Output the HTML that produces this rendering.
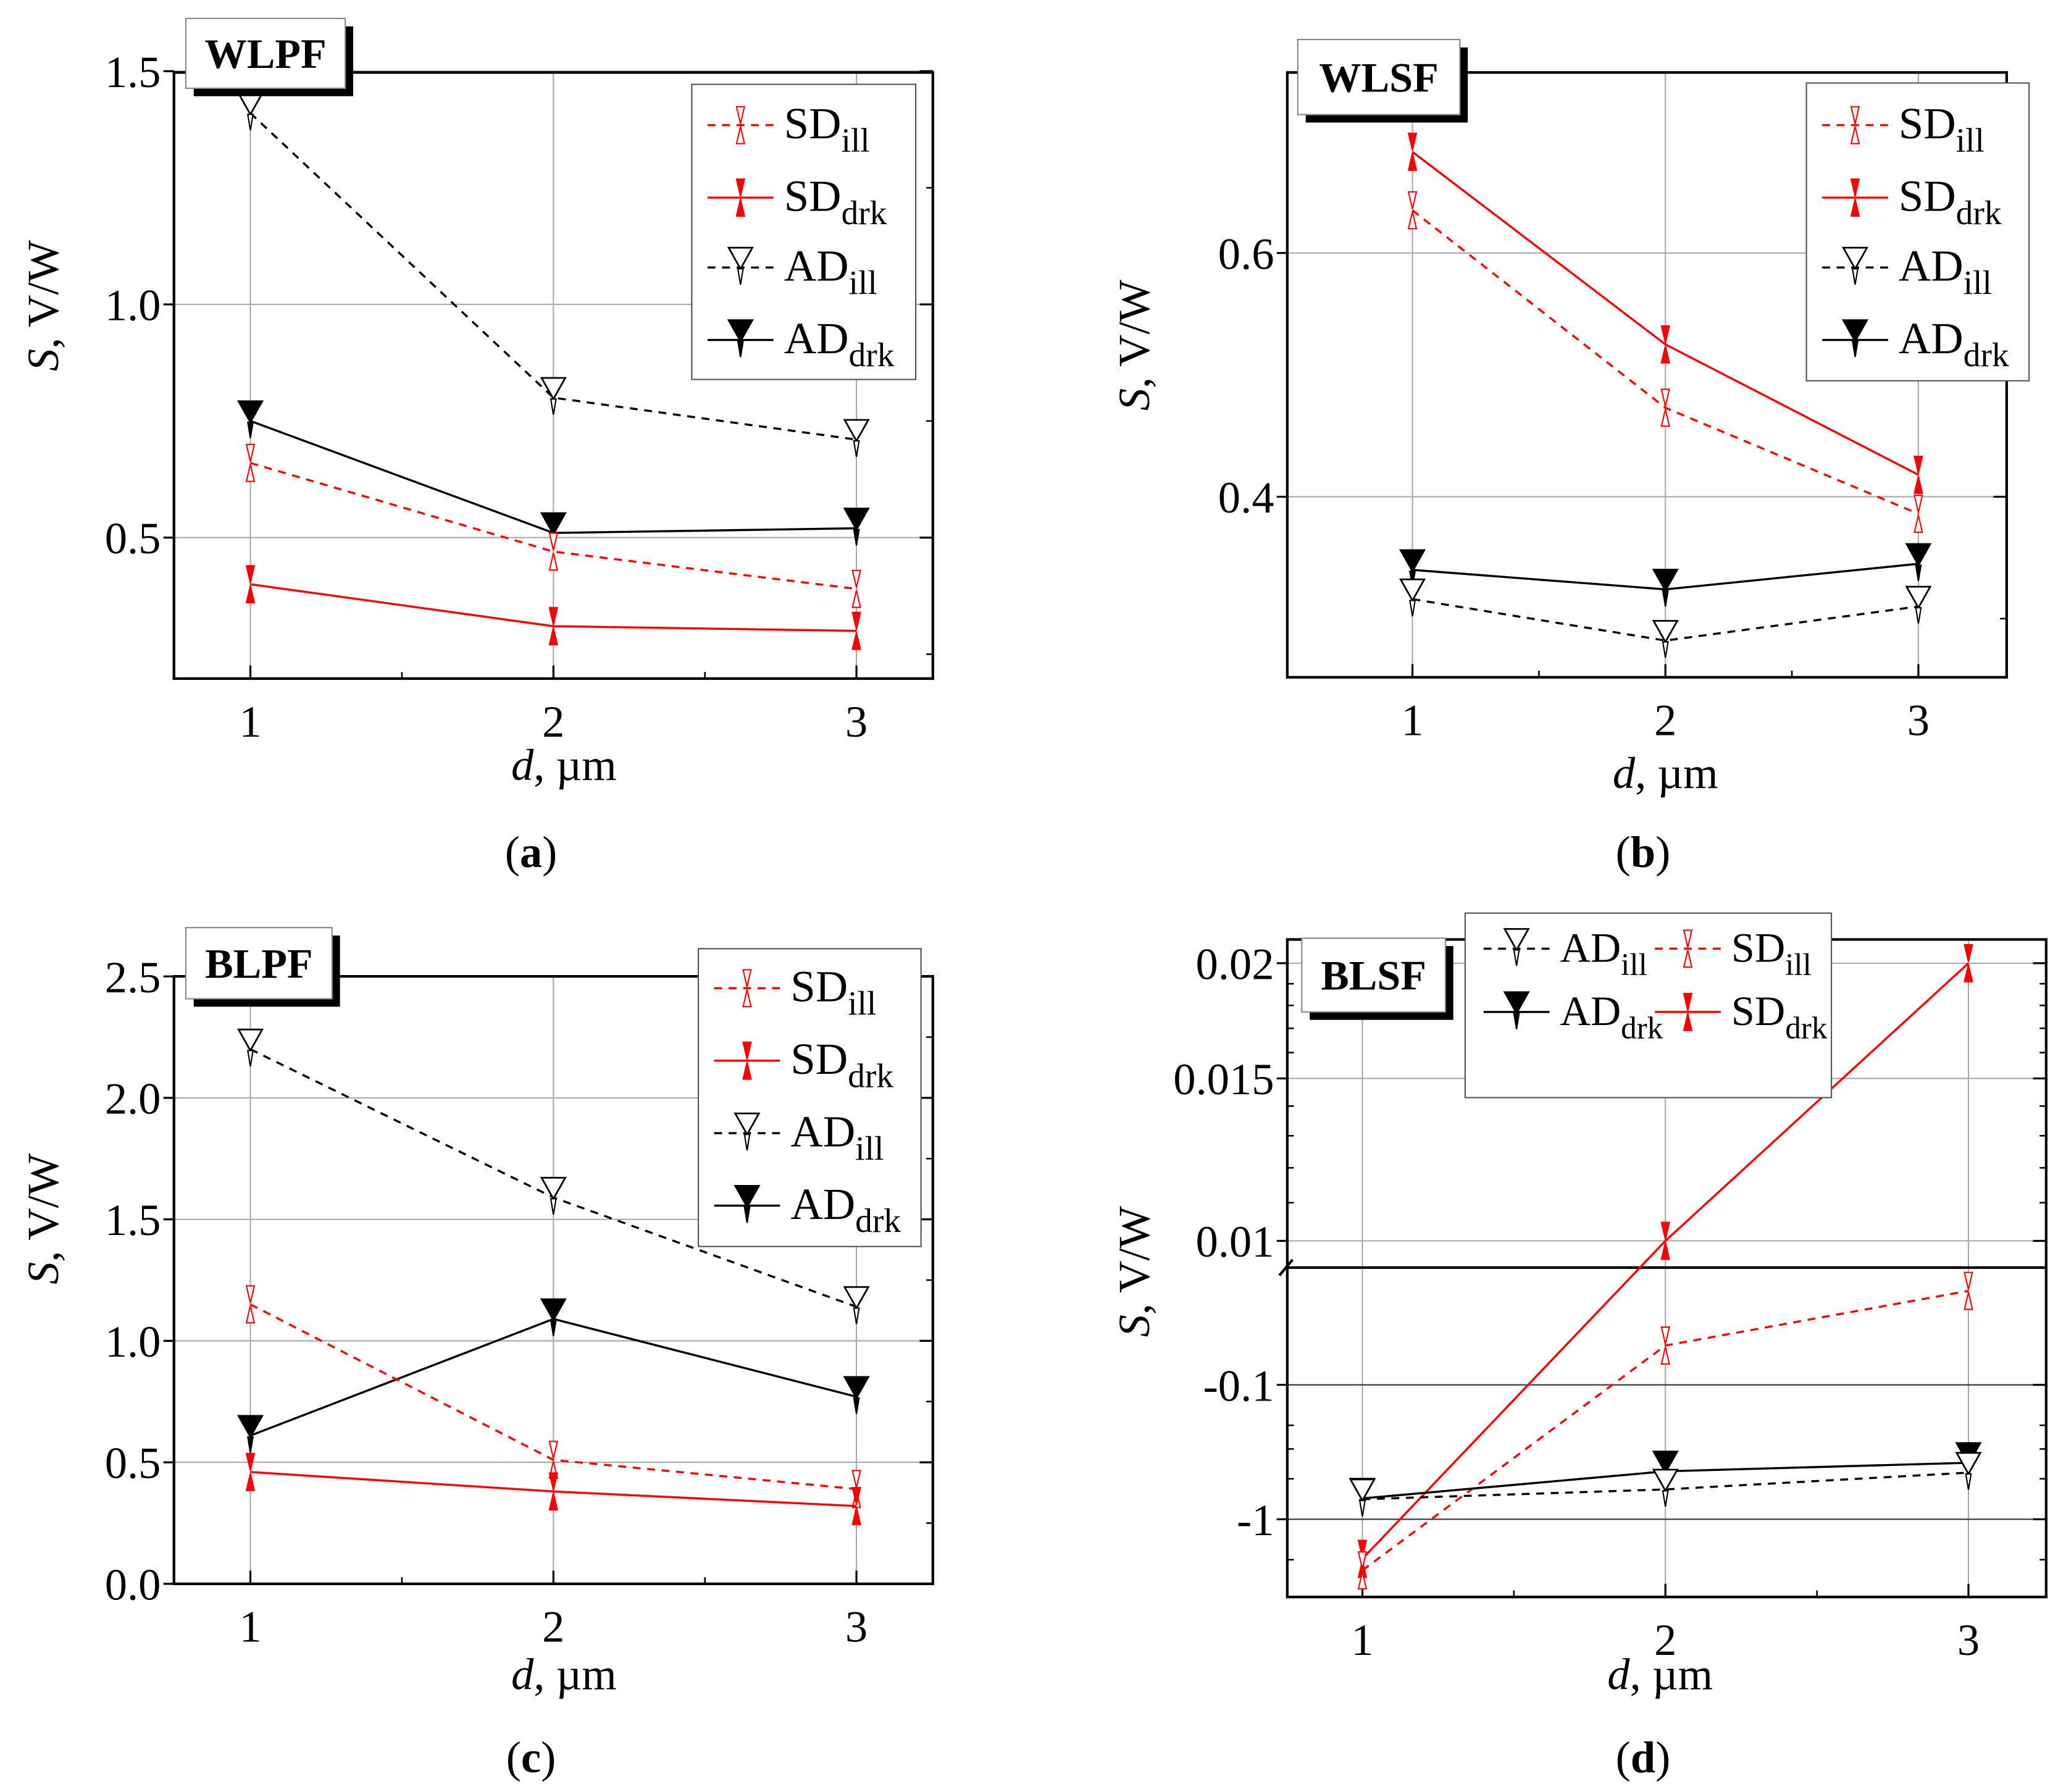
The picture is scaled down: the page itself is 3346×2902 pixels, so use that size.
<!DOCTYPE html>
<html><head><meta charset="utf-8"><style>
html,body{margin:0;padding:0;background:#fff}
svg{display:block}
text{font-family:"Liberation Serif",serif;fill:#000}
</style></head><body>
<svg id="s" width="3346" height="2902" viewBox="0 0 1568 1360" xmlns="http://www.w3.org/2000/svg"></svg>
<script>
const xCats=[1,2,3];
// panel a (WLPF)
const aADill=[1.41,0.80,0.71], aADdrk=[0.75,0.51,0.52], aSDill=[0.66,0.47,0.39], aSDdrk=[0.40,0.31,0.30];
const aTicks=[0.5,1.0,1.5], aTickLabels=["0.5","1.0","1.5"];
// panel b (WLSF)
const bSDdrk=[0.683,0.525,0.418], bSDill=[0.635,0.473,0.386], bADdrk=[0.340,0.324,0.345], bADill=[0.316,0.282,0.310];
const bTicks=[0.4,0.6], bTickLabels=["0.4","0.6"];
// panel c (BLPF)
const cADill=[2.20,1.59,1.14], cADdrk=[0.61,1.09,0.77], cSDill=[1.15,0.51,0.39], cSDdrk=[0.46,0.38,0.32];
const cTicks=[0,0.5,1.0,1.5,2.0,2.5], cTickLabels=["0.0","0.5","1.0","1.5","2.0","2.5"];
// panel d (BLSF) - broken axis, negative values plotted on lower log segment
const dADill=[-0.71,-0.60,-0.45], dADdrk=[-0.70,-0.44,-0.38], dSDill=[-2.4,-0.051,-0.02], dSDdrk=[-1.97,0.01,0.02];
const dTicks=[0.02,0.015,0.01,-0.1,-1], dTickLabels=["0.02","0.015","0.01","-0.1","-1"];

const S=document.getElementById('s');
const NS="http://www.w3.org/2000/svg";
function mk(tag,at,parent){const e=document.createElementNS(NS,tag);for(const k in at)e.setAttribute(k,at[k]);(parent||S).appendChild(e);return e;}
function lin(v0,p0,v1,p1){return v=>p0+(v-v0)*(p1-p0)/(v1-v0);}

function marker(g,kind,x,y,color){
  if(kind==='ADill'||kind==='ADdrk'){
    const fill=kind==='ADdrk'?'#000':'#fff';
    const m=mk('g',{},g);
    
    
    mk('line',{x1:x,y1:y-12,x2:x,y2:y+12,stroke:'#000','stroke-width':1.5},m);
    mk('path',{d:`M${x-9} ${y-15}L${x+9} ${y-15}L${x} ${y+1}Z`,fill:fill,stroke:'#000','stroke-width':1.3},m);
    mk('path',{d:`M${x-2} ${y+1}L${x+2} ${y+1}L${x} ${y+13}Z`,fill:fill,stroke:'#000','stroke-width':1},m);
  } else {
    const fill=kind==='SDdrk'?'red':'#fff';
    const m=mk('g',{},g);
    
    
    mk('path',{d:`M${x-3} ${y-14}L${x+3} ${y-14}L${x} ${y-1}Z`,fill:fill,stroke:'red','stroke-width':1},m);
    mk('path',{d:`M${x-3} ${y+14}L${x+3} ${y+14}L${x} ${y+1}Z`,fill:fill,stroke:'red','stroke-width':1},m);
  }
}

function series(g,vals,fx,fy,kind){
  const color=kind.startsWith('SD')?'red':'#000';
  const dash=kind.endsWith('ill')?'6,5':'none';
  const pts=vals.map((v,i)=>[fx(xCats[i]),fy(v)]);
  const p=mk('polyline',{points:pts.map(p=>p.join(',')).join(' '),fill:'none',stroke:color,'stroke-width':1.6,'stroke-dasharray':dash},g);
  
  
  pts.forEach(p=>marker(g,kind,p[0],p[1],color));
}

function titleBox(x,y,w,h,t){
  const g=mk('g',{});
  
  
  mk('rect',{x:x+6,y:y+6,width:w,height:h,fill:'#000'},g);
  mk('rect',{x:x,y:y,width:w,height:h,fill:'#fff',stroke:'#888','stroke-width':1},g);
  const tx=mk('text',{x:x+w/2,y:y+h/2+11,'text-anchor':'middle','font-size':32,'font-weight':'bold'},g);tx.textContent=t;
}

function legendEntry(g,kind,x,y,label,sub,fs){
  const color=kind.startsWith('SD')?'red':'#000';
  const dash=kind.endsWith('ill')?'6,5':'none';
  const e=mk('g',{},g);
  
  
  mk('line',{x1:x,y1:y,x2:x+50,y2:y,stroke:color,'stroke-width':1.6,'stroke-dasharray':dash},e);
  marker(e,kind,x+25,y,color);
  const t=mk('text',{x:x+58,y:y+10,'font-size':fs},e);
  t.innerHTML=label+'<tspan dy="10" font-size="'+Math.round(fs*0.75)+'">'+sub+'</tspan>';
}

function legend(x,y,w,h,rows,fs){
  const g=mk('g',{});
  
  
  mk('rect',{x:x,y:y,width:w,height:h,fill:'#fff',stroke:'#555','stroke-width':1},g);
  rows.forEach(r=>legendEntry(g,r[0],r[1],r[2],r[3],r[4],fs||34));
}

function frame(g,L,T,R,B){
  mk('rect',{x:L,y:T,width:R-L,height:B-T,fill:'none',stroke:'#000','stroke-width':2},g);
}

function axisLabels(g,cx,by,ly,lx){
  const xl=mk('text',{x:cx,y:by,'text-anchor':'middle','font-size':34},g);
  
  
  xl.innerHTML='<tspan font-style="italic">d</tspan>, µm';
  const yl=mk('text',{x:0,y:0,'text-anchor':'middle','font-size':34,transform:`translate(${lx},${ly}) rotate(-90)`},g);
  
  
  yl.innerHTML='<tspan font-style="italic">S</tspan>, V/W';
}

function xAxis(g,fx,B,T){
  xCats.forEach(c=>{
    const x=fx(c);
    mk('line',{x1:x,y1:T,x2:x,y2:B,stroke:'#aaa','stroke-width':1},g);
    mk('line',{x1:x,y1:B,x2:x,y2:B-10,stroke:'#000','stroke-width':1.5},g);
    const t=mk('text',{x:x,y:B+44,'text-anchor':'middle','font-size':34},g);
    
    
    t.textContent=c;
  });
  for(let c=1.5;c<3;c+=1){const x=fx(c);mk('line',{x1:x,y1:B,x2:x,y2:B-5,stroke:'#000','stroke-width':1.2},g);}
}

function yAxis(g,ticks,labels,fy,L,R,gridColor){
  ticks.forEach((v,i)=>{
    const y=fy(v);
    mk('line',{x1:L,y1:y,x2:R,y2:y,stroke:gridColor||'#aaa','stroke-width':1},g);
    mk('line',{x1:R,y1:y,x2:R-10,y2:y,stroke:'#000','stroke-width':1.5},g);
    mk('line',{x1:L,y1:y,x2:L-8,y2:y,stroke:'#000','stroke-width':1.5},g);
    const t=mk('text',{x:L-10,y:y+12,'text-anchor':'end','font-size':34},g);
    
    
    t.textContent=labels[i];
  });
}

function minor(g,fy,from,to,step,L,R){
  for(let v=from;v<=to+1e-9;v+=step){const y=fy(v);mk('line',{x1:R,y1:y,x2:R-5,y2:y,stroke:'#000','stroke-width':1.2},g);}
}

// ---- Panel a ----
(function(){
  const g=mk('g',{});
  const L=132,T=55,R=708,B=515;
  const fx=lin(1,190,2,420), fy=lin(0.5,408,1.0,231);
  xAxis(g,fx,B,T); yAxis(g,aTicks,aTickLabels,fy,L,R); minor(g,fy,0.25,1.5,0.25,L,R);
  frame(g,L,T,R,B);
  series(g,aADill,fx,fy,'ADill');series(g,aADdrk,fx,fy,'ADdrk');series(g,aSDill,fx,fy,'SDill');series(g,aSDdrk,fx,fy,'SDdrk');
  axisLabels(g,428,592,232,44);
  const c=mk('text',{x:403,y:658,'text-anchor':'middle','font-size':34});c.innerHTML='(<tspan font-weight="bold">a</tspan>)';
  titleBox(141,14,121,53,'WLPF');
  legend(525,64,170,224,[['SDill',537,95,'SD','ill'],['SDdrk',537,150,'SD','drk'],['ADill',537,203,'AD','ill'],['ADdrk',537,258,'AD','drk']]);
})();

// ---- Panel b ----
(function(){
  const g=mk('g',{});
  const L=977,T=55,R=1523,B=514;
  const fx=lin(1,1072,2,1264), fy=lin(0.4,377,0.6,192);
  xAxis(g,fx,B,T); yAxis(g,bTicks,bTickLabels,fy,L,R); minor(g,fy,0.3,0.7,0.1,L,R);
  frame(g,L,T,R,B);
  series(g,bSDdrk,fx,fy,'SDdrk');series(g,bSDill,fx,fy,'SDill');series(g,bADdrk,fx,fy,'ADdrk');series(g,bADill,fx,fy,'ADill');
  axisLabels(g,1264,598,262,872);
  const c=mk('text',{x:1247,y:658,'text-anchor':'middle','font-size':34});c.innerHTML='(<tspan font-weight="bold">b</tspan>)';
  titleBox(985,30,123,57,'WLSF');
  legend(1371,63,169,226,[['SDill',1383,95,'SD','ill'],['SDdrk',1383,150,'SD','drk'],['ADill',1383,203,'AD','ill'],['ADdrk',1383,258,'AD','drk']]);
})();

// ---- Panel c ----
(function(){
  const g=mk('g',{});
  const L=132,T=741,R=708,B=1202;
  const fx=lin(1,190,2,420), fy=lin(0,1202,2.5,741);
  xAxis(g,fx,B,T); yAxis(g,cTicks,cTickLabels,fy,L,R); minor(g,fy,0.25,2.25,0.5,L,R);
  frame(g,L,T,R,B);
  series(g,cADill,fx,fy,'ADill');series(g,cADdrk,fx,fy,'ADdrk');series(g,cSDill,fx,fy,'SDill');series(g,cSDdrk,fx,fy,'SDdrk');
  axisLabels(g,428,1282,925,44);
  const c=mk('text',{x:403,y:1345,'text-anchor':'middle','font-size':34});c.innerHTML='(<tspan font-weight="bold">c</tspan>)';
  titleBox(141,704,111,54,'BLPF');
  legend(530,720,169,226,[['SDill',542,750,'SD','ill'],['SDdrk',542,805,'SD','drk'],['ADill',542,860,'AD','ill'],['ADdrk',542,915,'AD','drk']]);
})();

// ---- Panel d ----
(function(){
  const g=mk('g',{});
  const L=977,T=713,R=1553,B=1212,BRK=962;
  const fx=lin(1,1034,2,1264);
  const fy=v=> v>0 ? 731-700*Math.log10(v/0.02) : 1051+102*Math.log10(-v/0.1);
  xAxis(g,fx,B,T);
  yAxis(g,dTicks.slice(0,3),dTickLabels.slice(0,3),fy,L,R,'#aaa');
  yAxis(g,dTicks.slice(3),dTickLabels.slice(3),fy,L,R,'#333');
  [0.011,0.012,0.013,0.014,0.016,0.017,0.018,0.019].forEach(v=>{const y=fy(v);mk('line',{x1:R,y1:y,x2:R-5,y2:y,stroke:'#000','stroke-width':1.2},g);mk('line',{x1:L,y1:y,x2:L+5,y2:y,stroke:'#000','stroke-width':1.2},g);});
  [-0.2,-0.3,-0.5,-2].forEach(v=>{const y=fy(v);mk('line',{x1:R,y1:y,x2:R-5,y2:y,stroke:'#000','stroke-width':1.2},g);mk('line',{x1:L,y1:y,x2:L+5,y2:y,stroke:'#000','stroke-width':1.2},g);});
  frame(g,L,T,R,B);
  const br=mk('line',{x1:L,y1:BRK,x2:R,y2:BRK,stroke:'#000','stroke-width':2},g);
  
  mk('path',{d:`M${L-6} ${BRK+6}L${L+4} ${BRK-6}`,stroke:'#000','stroke-width':2,fill:'none'},g);
  series(g,dSDdrk,fx,fy,'SDdrk');series(g,dSDill,fx,fy,'SDill');series(g,dADdrk,fx,fy,'ADdrk');series(g,dADill,fx,fy,'ADill');
  axisLabels(g,1260,1282,965,872);
  const c=mk('text',{x:1247,y:1345,'text-anchor':'middle','font-size':34});c.innerHTML='(<tspan font-weight="bold">d</tspan>)';
  titleBox(988,712,109,56,'BLSF');
  legend(1112,693,278,140,[['ADill',1126,720,'AD','ill'],['SDill',1256,720,'SD','ill'],['ADdrk',1126,768,'AD','drk'],['SDdrk',1256,768,'SD','drk']],32);
})();
</script>
</body></html>
